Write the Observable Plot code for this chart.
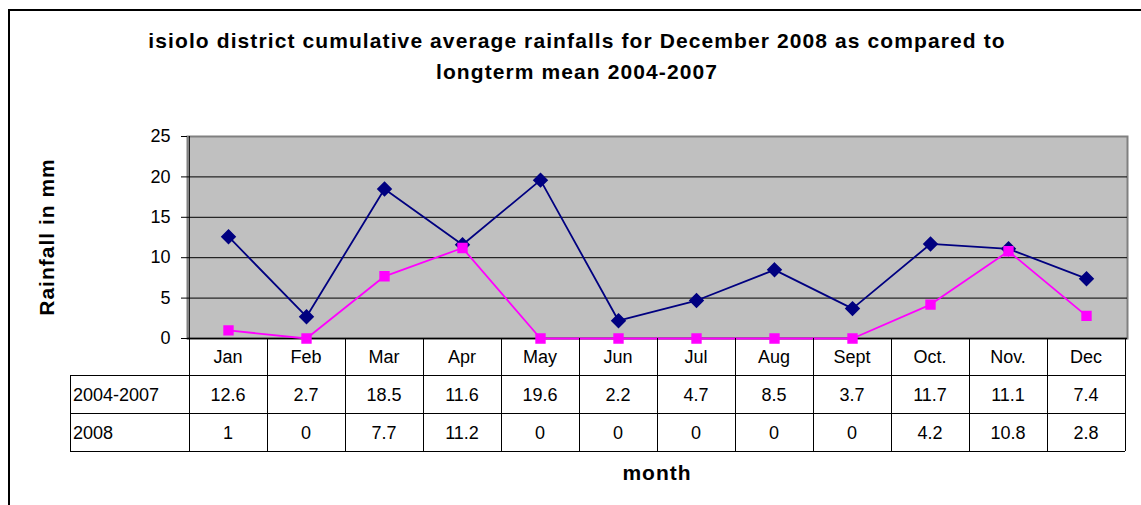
<!DOCTYPE html>
<html><head><meta charset="utf-8">
<script src="https://cdn.jsdelivr.net/npm/d3@7"></script>
<script src="https://cdn.jsdelivr.net/npm/@observablehq/plot@0.6"></script>
<style>
body{margin:0;background:#fff;font-family:"Liberation Sans",Arial,sans-serif;overflow:hidden;}
#frame{position:absolute;left:8px;top:9px;width:1300px;height:700px;border-left:2px solid #000;border-top:2px solid #000;}
#title{position:absolute;left:0;top:25px;width:1154px;text-align:center;font-weight:bold;font-size:21px;letter-spacing:1.1px;line-height:31px;color:#000;}
#chart{position:absolute;left:0;top:100px;}
</style></head>
<body>
<div id="frame"></div>
<div id="title">isiolo district cumulative average rainfalls for December 2008 as compared to<br>longterm mean 2004-2007</div>
<div id="chart"></div>
<script>
const months = ["Jan","Feb","Mar","Apr","May","Jun","Jul","Aug","Sept","Oct.","Nov.","Dec"];
const mean0407 = [12.6, 2.7, 18.5, 11.6, 19.6, 2.2, 4.7, 8.5, 3.7, 11.7, 11.1, 7.4];
const rain2008 = [1, 0, 7.7, 11.2, 0, 0, 0, 0, 0, 4.2, 10.8, 2.8];
const seriesNames = ["2004-2007", "2008"];
const yTicks = [0, 5, 10, 15, 20, 25];
const xLabel = "month";
const yLabel = "Rainfall in mm";

const navy = "#000080", magenta = "#FF00FF";
const rows = [
  {name: seriesNames[0], values: mean0407},
  {name: seriesNames[1], values: rain2008}
];
const d0407 = months.map((m, i) => ({month: m, value: mean0407[i]}));
const d2008 = months.map((m, i) => ({month: m, value: rain2008[i]}));

function table(index, scales, values, dims) {
  const x = scales.x;
  const g = d3.create("svg:g")
    .attr("font-family", "'Liberation Sans', Arial, sans-serif")
    .attr("font-size", 18).attr("fill", "#000");
  const step = x(months[1]) - x(months[0]);
  const left = x(months[0]) - step / 2;
  const right = x(months[months.length - 1]) + step / 2;
  const top = dims.height - dims.marginBottom;
  const rowH = 37.7;
  const labelLeft = 70;
  const lines = g.append("g").attr("stroke", "#000").attr("stroke-width", 1).attr("shape-rendering", "crispEdges");
  for (let r = 1; r <= 3; r++) {
    lines.append("line").attr("x1", labelLeft).attr("x2", right)
      .attr("y1", top + r * rowH).attr("y2", top + r * rowH);
  }
  for (let i = 0; i <= months.length; i++) {
    const bx = left + i * step;
    lines.append("line").attr("x1", bx).attr("x2", bx).attr("y1", top).attr("y2", top + 3 * rowH);
  }
  lines.append("line").attr("x1", labelLeft).attr("x2", labelLeft).attr("y1", top + rowH).attr("y2", top + 3 * rowH);
  months.forEach(m => {
    g.append("text").attr("x", x(m)).attr("y", top + rowH / 2).attr("dy", "0.35em")
      .attr("text-anchor", "middle").text(m);
  });
  rows.forEach((row, r) => {
    const cy = top + (r + 1.5) * rowH;
    g.append("text").attr("x", labelLeft + 3).attr("y", cy).attr("dy", "0.35em")
      .attr("text-anchor", "start").text(row.name);
    row.values.forEach((v, i) => {
      g.append("text").attr("x", x(months[i])).attr("y", cy).attr("dy", "0.35em")
        .attr("text-anchor", "middle").text(String(v));
    });
  });
  g.append("text").attr("x", (left + right) / 2).attr("y", top + 135).attr("dy", "0.35em")
    .attr("text-anchor", "middle").attr("font-weight", "bold").attr("font-size", 21)
    .attr("letter-spacing", "1px").text(xLabel);
  const midY = (dims.marginTop + top) / 2;
  g.append("text").attr("transform", `translate(47,${midY}) rotate(-90)`).attr("dy", "0.35em")
    .attr("text-anchor", "middle").attr("font-weight", "bold").attr("font-size", 21)
    .attr("letter-spacing", "1px").text(yLabel);
  return g.node();
}

const chart = Plot.plot({
  width: 1141,
  height: 405,
  marginLeft: 187,
  marginRight: 14,
  marginTop: 36,
  marginBottom: 167,
  style: {fontFamily: "'Liberation Sans', Arial, sans-serif", fontSize: "18px", color: "#000", background: "transparent", overflow: "visible"},
  x: {type: "point", domain: months, padding: 0.5, axis: null},
  y: {domain: [0, 25], axis: null},
  marks: [
    Plot.frame({fill: "#C0C0C0", stroke: "#808080", strokeWidth: 2}),
    Plot.ruleY(yTicks.filter(t => t > 0 && t < 25), {stroke: "#000", strokeWidth: 1}),
    Plot.axisY(yTicks, {tickSize: 6, tickPadding: 11, fontSize: 18, stroke: "#000", label: null}),
    Plot.ruleY([0], {stroke: "#000", strokeWidth: 1.5}),
    Plot.ruleX([months[0]], {dx: -39.17, stroke: "#000", strokeWidth: 1}),
    Plot.line(d0407, {x: "month", y: "value", stroke: navy, strokeWidth: 1.8}),
    Plot.line(d2008, {x: "month", y: "value", stroke: magenta, strokeWidth: 1.8}),
    Plot.dot(d0407, {x: "month", y: "value", symbol: "diamond2", r: 6, fill: navy, stroke: navy}),
    Plot.dot(d2008, {x: "month", y: "value", symbol: "square", r: 5, fill: magenta, stroke: magenta}),
    table
  ]
});
document.getElementById("chart").appendChild(chart);
</script>
</body></html>
